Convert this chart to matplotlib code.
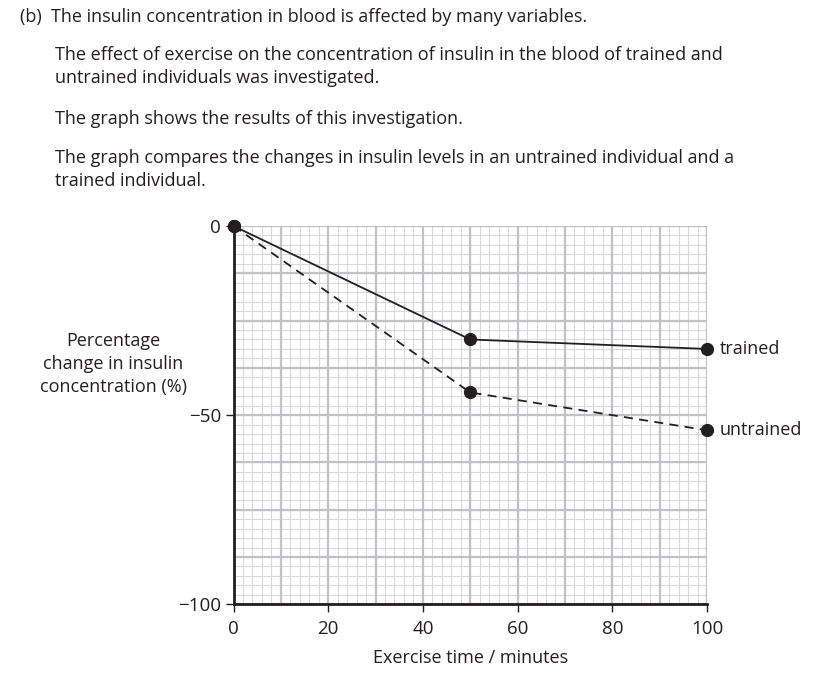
import matplotlib
matplotlib.use("Agg")
import matplotlib.pyplot as plt
import numpy as np
from matplotlib.ticker import MultipleLocator, FixedLocator

plt.rcParams['font.family'] = ['Open Sans', 'DejaVu Sans']

time_min = [0, 50, 100]
trained = [0, -30, -32.5]
untrained = [0, -44, -54]
x_ticks = [0, 20, 40, 60, 80, 100]
y_ticks = [0, -50, -100]

header = [
    ("(b)  The insulin concentration in blood is affected by many variables.", 20, 17),
    ("The effect of exercise on the concentration of insulin in the blood of trained and", 55, 55),
    ("untrained individuals was investigated.", 55, 78),
    ("The graph shows the results of this investigation.", 55, 119),
    ("The graph compares the changes in insulin levels in an untrained individual and a", 55, 158),
    ("trained individual.", 55, 181),
]

INK = '#231f20'
W, H = 818, 691
fig = plt.figure(figsize=(W/100, H/100), dpi=100)
ax = fig.add_axes([233.5/W, (H-604.3)/H, (707-233.5)/W, (604.3-226)/H])

ax.set_xlim(0, 100)
ax.set_ylim(-100, 0)
ax.set_axisbelow(True)

# graph-paper grid
ax.xaxis.set_minor_locator(MultipleLocator(2))
ax.yaxis.set_minor_locator(MultipleLocator(2.5))
ax.grid(which='minor', color='#d9d9dc', lw=0.8)
for yv in np.arange(-100, 0.1, 12.5):
    ax.axhline(yv, color='#c2c2c6', lw=1.6, zorder=0.6)
for xv in np.arange(0, 100.1, 10):
    ax.axvline(xv, color='#c2c2c6', lw=1.6, zorder=0.6)

for s in ['top', 'right']:
    ax.spines[s].set_visible(False)
for s in ['left', 'bottom']:
    ax.spines[s].set_linewidth(2.0)
    ax.spines[s].set_color(INK)
    ax.spines[s].set_zorder(2.5)

ax.xaxis.set_major_locator(FixedLocator(x_ticks))
ax.yaxis.set_major_locator(FixedLocator(y_ticks))
ax.set_xticklabels([str(v) for v in x_ticks])
ax.set_yticklabels(['0' if v == 0 else '\u2212' + str(abs(v)) for v in y_ticks])
ax.tick_params(which='minor', length=0)
ax.tick_params(which='major', length=6, width=1.0, color=INK, direction='out',
               labelsize=13.5, labelcolor=INK)
ax.tick_params(axis='x', which='major', pad=5)
ax.tick_params(axis='y', which='major', pad=3)

ax.plot(time_min, untrained, color=INK, lw=1.3, ls=(0, (5, 3.5)), zorder=3, clip_on=False)
ax.plot(time_min, trained, color=INK, lw=1.3, ls='-', zorder=3, clip_on=False)
ax.plot(time_min, untrained, 'o', color=INK, ms=8.5, zorder=4, clip_on=False)
ax.plot(time_min, trained, 'o', color=INK, ms=8.5, zorder=4, clip_on=False)

ax.text(102.7, trained[-1], 'trained', fontsize=13, va='center', ha='left', color=INK)
ax.text(102.7, untrained[-1], 'untrained', fontsize=13, va='center', ha='left', color=INK)

ax.set_xlabel('Exercise time / minutes', fontsize=13, color=INK, labelpad=8)

fig.text(113/W, 1 - 364/H, 'Percentage\nchange in insulin\nconcentration (%)', fontsize=13,
         ha='center', va='center', color=INK, linespacing=1.35)

for txt, x, y in header:
    fig.text(x/W, 1 - y/H, txt, fontsize=13, ha='left', va='center', color=INK)

fig.savefig('out.png', dpi=100)
